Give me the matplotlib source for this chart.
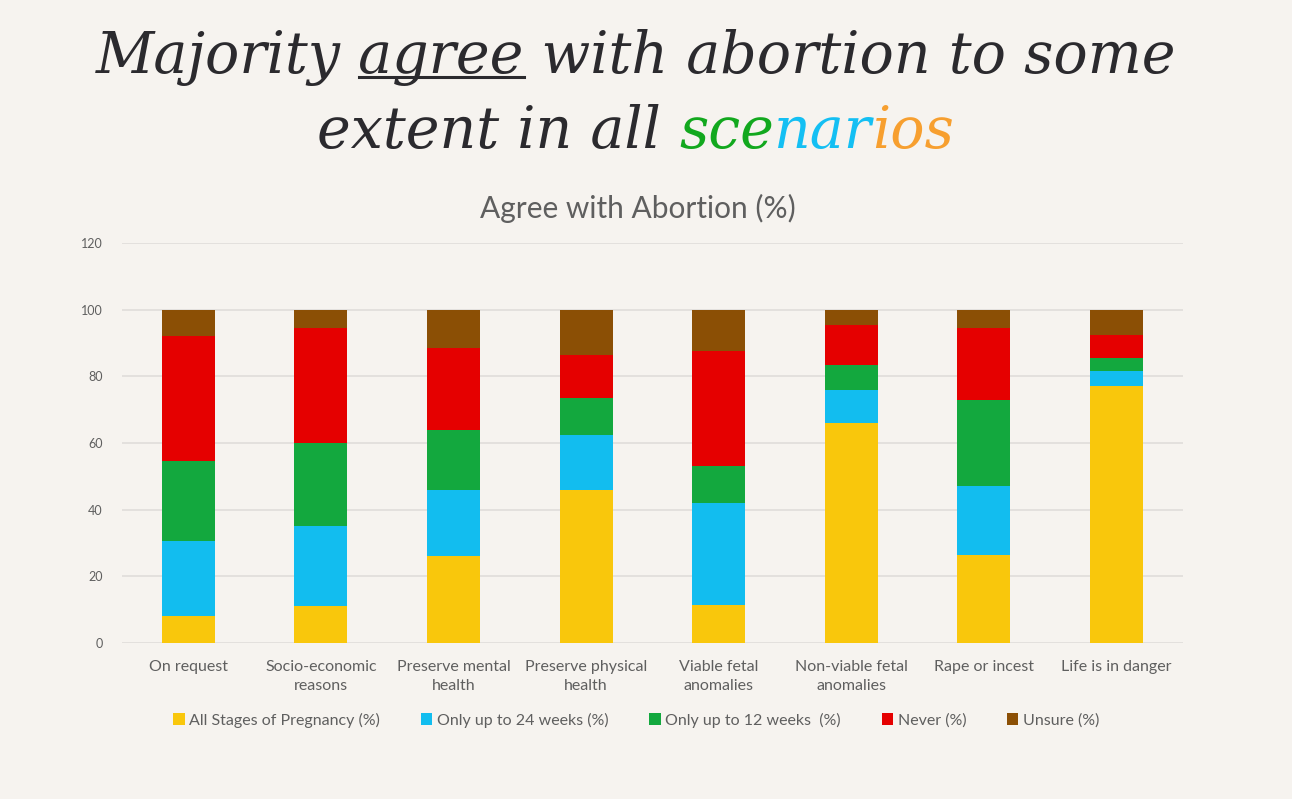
import matplotlib
matplotlib.use("Agg")
import matplotlib.pyplot as plt
import numpy as np

# data
categories = ["On request", "Socio-economic\nreasons", "Preserve mental\nhealth",
              "Preserve physical\nhealth", "Viable fetal\nanomalies",
              "Non-viable fetal\nanomalies", "Rape or incest", "Life is in danger"]
all_stages = [8, 11, 26, 46, 11.5, 66, 26.5, 77]
upto_24 = [22.5, 24, 20, 16.5, 30.5, 10, 20.5, 4.5]
upto_12 = [24, 25, 18, 11, 11, 7.5, 26, 4]
never = [37.5, 34.5, 24.5, 13, 34.5, 12, 21.5, 7]
unsure = [8, 5.5, 11.5, 13.5, 12.5, 4.5, 5.5, 7.5]

series = ["All Stages of Pregnancy (%)", "Only up to 24 weeks (%)",
          "Only up to 12 weeks  (%)", "Never (%)", "Unsure (%)"]
colors = ["#F9C70C", "#12BDEF", "#13A83E", "#E50000", "#8B4F05"]

bg = "#F6F3EF"
grey = "#5F5F5F"
lab_font = dict(family="Lato")

fig = plt.figure(figsize=(12.92, 7.99), dpi=100, facecolor=bg)
ax = fig.add_axes([0.0944, 0.1952, 0.821, 0.5006], facecolor=bg)

x = np.arange(len(categories))
bottom = np.zeros(len(categories))
for vals, name, c in zip([all_stages, upto_24, upto_12, never, unsure], series, colors):
    ax.bar(x, vals, 0.4, bottom=bottom, color=c, label=name, zorder=3)
    bottom += np.array(vals)

ax.set_xlim(-0.5, 7.5)
ax.set_ylim(0, 120)
ax.set_yticks(range(0, 121, 20))
ax.set_xticks(x)
ax.set_xticklabels(categories, fontsize=11.5, color=grey, linespacing=1.45, **lab_font)
ax.tick_params(axis="y", labelsize=9, labelcolor=grey, length=0, pad=14)
ax.tick_params(axis="x", length=0, pad=12)
for lab in ax.get_yticklabels():
    lab.set_family("Lato")
ax.grid(axis="y", color="#E0DDDA", linewidth=1.2, zorder=0)
for s in ax.spines.values():
    s.set_visible(False)

ax.set_title("Agree with Abortion (%)", fontsize=21.5, color=grey, pad=18, x=0.486, **lab_font)

ax.legend(loc="upper center", bbox_to_anchor=(0.485, -0.138), ncol=5, frameon=False,
          prop={"family": "Lato", "size": 11.5}, labelcolor=grey,
          handlelength=0.7, handleheight=0.7, handletextpad=0.3, columnspacing=2.55)

# big headline with underline and coloured letters
fig.canvas.draw()
r = fig.canvas.get_renderer()
W = fig.bbox.width
tfont = dict(family="DejaVu Serif", style="italic", fontsize=41)
dark = "#2B2A2E"


def width(s):
    t = fig.text(0, 0, s, **tfont)
    w = t.get_window_extent(r).width
    t.remove()
    return w


line1 = "Majority agree with abortion to some"
w1 = width(line1)
left1 = 0.492 * W - w1 / 2
y1 = 0.909
fig.text(left1 / W, y1, line1, color=dark, ha="left", va="baseline", **tfont)
a0 = left1 + width("Majority agree") - width("agree")
a1 = left1 + width("Majority agree")
fig.add_artist(plt.Line2D([a0 / W, a1 / W], [y1 - 0.005, y1 - 0.005],
                          color=dark, linewidth=2.2, transform=fig.transFigure))

pieces = [("extent in all", dark), (" sce", "#12A81E"), ("nar", "#14BFF3"), ("ios", "#F79F2F")]
line2 = "".join(p for p, _ in pieces)
w2 = width(line2)
left2 = 0.492 * W - w2 / 2
y2 = 0.815
acc = ""
for p, c in pieces:
    acc += p
    fig.text((left2 + width(acc)) / W, y2, p.strip(), color=c, ha="right",
             va="baseline", **tfont)

fig.savefig("out.png", dpi=100, facecolor=bg)
